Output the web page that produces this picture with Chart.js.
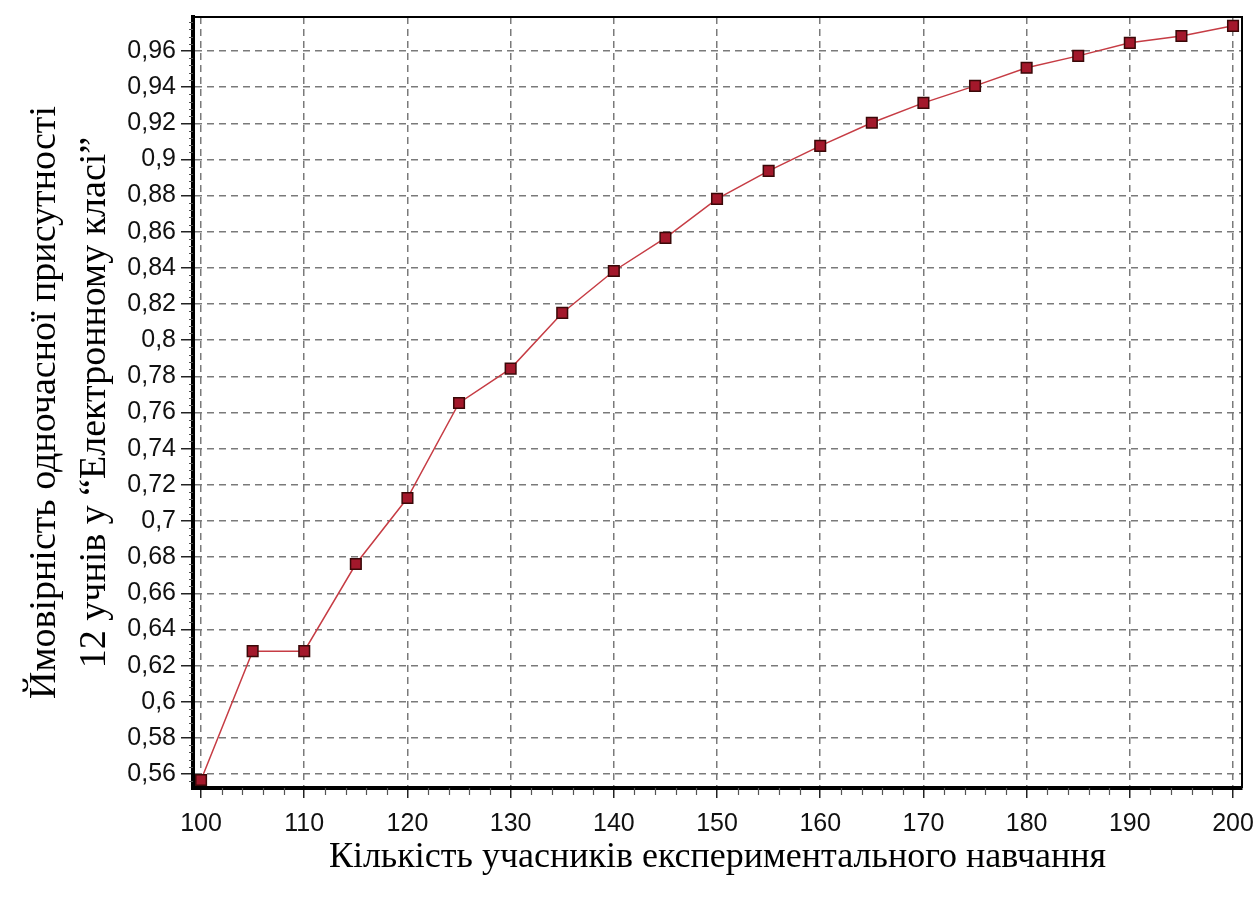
<!DOCTYPE html>
<html>
<head>
<meta charset="utf-8">
<script src="https://cdn.jsdelivr.net/npm/chart.js@4"></script>
<style>
    body { margin: 0; background: #fff; }
    #wrap { width: 1257px; height: 900px; }
</style>
</head>
<body>
<div id="wrap"><canvas id="probChart"></canvas></div>
<script>
// participants count (x) and probability (y)
const participants = [100, 105, 110, 115, 120, 125, 130, 135, 140, 145, 150, 155, 160, 165, 170, 175, 180, 185, 190, 195, 200];
const probability = [0.5567, 0.628, 0.628, 0.6762, 0.7127, 0.7653, 0.7843, 0.8151, 0.8383, 0.8566, 0.8782, 0.8937, 0.9075, 0.9203, 0.9313, 0.9407, 0.9507, 0.9573, 0.9645, 0.9683, 0.9739];

const xTicks = [100, 110, 120, 130, 140, 150, 160, 170, 180, 190, 200];
const yTicks = [0.56, 0.58, 0.6, 0.62, 0.64, 0.66, 0.68, 0.7, 0.72, 0.74, 0.76, 0.78, 0.8, 0.82, 0.84, 0.86, 0.88, 0.9, 0.92, 0.94, 0.96];

const xTitle = "Кількість учасників експериментального навчання";
const yTitle = ["Ймовірність одночасної присутності", "12 учнів у “Електронному класі”"];

const points = participants.map((p, i) => ({ x: p, y: probability[i] }));

// top/right frame and small minor ticks
const framePlugin = {
    id: "frame",
    afterDraw(chart) {
        const { ctx, chartArea: a, scales: { x, y } } = chart;
        ctx.save();
        ctx.strokeStyle = "#000";
        ctx.lineWidth = 2;
        ctx.beginPath();
        ctx.moveTo(a.left, a.top);
        ctx.lineTo(a.right, a.top);
        ctx.lineTo(a.right, a.bottom);
        ctx.stroke();

        ctx.lineWidth = 1.2;
        ctx.strokeStyle = "#555";
        ctx.beginPath();
        for (let v = 102; v < 200; v += 2) {
            if (v % 10 === 0) continue;
            const px = Math.round(x.getPixelForValue(v)) + 0.5;
            ctx.moveTo(px, a.bottom);
            ctx.lineTo(px, a.bottom + 7);
        }
        for (let k = 139; k <= 244; k++) {
            if (k % 5 === 0) continue;
            const py = Math.round(y.getPixelForValue(k * 0.004)) + 0.5;
            if (py < a.top || py > a.bottom) continue;
            ctx.moveTo(a.left - 4, py);
            ctx.lineTo(a.left, py);
        }
        ctx.stroke();
        ctx.restore();
    }
};

const ctx = document.getElementById("probChart").getContext("2d");

new Chart(ctx, {
    type: "line",
    data: {
        datasets: [{
            data: points,
            borderColor: "#c63c44",
            borderWidth: 1.5,
            pointStyle: "rect",
            pointRadius: 7.5,
            pointHoverRadius: 7.5,
            pointBackgroundColor: "#a3182b",
            pointBorderColor: "#3a0808",
            pointBorderWidth: 1.5,
            tension: 0
        }]
    },
    options: {
        responsive: true,
        maintainAspectRatio: false,
        animation: false,
        layout: { padding: { top: 17, right: 15, left: 0, bottom: 0 } },
        plugins: {
            legend: { display: false },
            tooltip: { enabled: false }
        },
        scales: {
            x: {
                type: "linear",
                min: 99.22,
                max: 200.87,
                afterFit: s => { s.height = 112; s.paddingLeft = 0; s.paddingRight = 0; },
                afterBuildTicks: s => { s.ticks = xTicks.map(v => ({ value: v })); },
                ticks: {
                    color: "#111",
                    font: { family: "'Liberation Sans', Arial, sans-serif", size: 25 },
                    padding: 11,
                    maxRotation: 0,
                    autoSkip: false
                },
                grid: {
                    color: "#7a7a7a",
                    lineWidth: 1.5,
                    drawTicks: true,
                    tickLength: 10,
                    tickColor: "#222",
                    tickWidth: 1.5,
                    tickBorderDash: []
                },
                border: { display: true, color: "#000", width: 4, dash: [7, 5] },
                title: {
                    display: true,
                    text: xTitle,
                    color: "#000",
                    font: { family: "'Liberation Serif', 'Times New Roman', serif", size: 36 },
                    padding: { top: 0, bottom: 21 }
                }
            },
            y: {
                type: "linear",
                min: 0.5523,
                max: 0.9788,
                afterFit: s => { s.width = 193; s.paddingTop = 0; s.paddingBottom = 0; },
                afterBuildTicks: s => { s.ticks = yTicks.map(v => ({ value: v })); },
                ticks: {
                    color: "#111",
                    font: { family: "'Liberation Sans', Arial, sans-serif", size: 25 },
                    padding: 5,
                    callback: v => String(+v.toFixed(2)).replace(".", ",")
                },
                grid: {
                    color: "#7a7a7a",
                    lineWidth: 1.5,
                    drawTicks: true,
                    tickLength: 12,
                    tickColor: "#222",
                    tickWidth: 1.5,
                    tickBorderDash: []
                },
                border: { display: true, color: "#000", width: 4, dash: [7, 5] },
                title: {
                    display: true,
                    text: yTitle,
                    color: "#000",
                    font: { family: "'Liberation Serif', 'Times New Roman', serif", size: 38, lineHeight: 1.32 },
                    padding: { top: 20, bottom: 0 }
                }
            }
        }
    },
    plugins: [framePlugin]
});
</script>
</body>
</html>
